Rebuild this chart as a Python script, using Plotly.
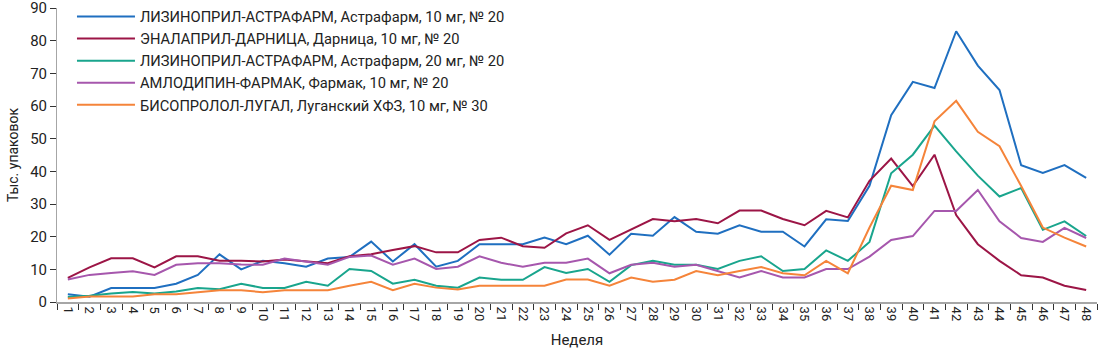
import plotly.graph_objects as go

weeks = [str(i) for i in range(1, 49)]

names = [
    "ЛИЗИНОПРИЛ-АСТРАФАРМ, Астрафарм, 10 мг, № 20",
    "ЭНАЛАПРИЛ-ДАРНИЦА, Дарница, 10 мг, № 20",
    "ЛИЗИНОПРИЛ-АСТРАФАРМ, Астрафарм, 20 мг, № 20",
    "АМЛОДИПИН-ФАРМАК, Фармак, 10 мг, № 20",
    "БИСОПРОЛОЛ-ЛУГАЛ, Луганский ХФЗ, 10 мг, № 30",
]

lisinopril_10 = [2.4, 1.6, 4.3, 4.3, 4.3, 5.6, 8.3, 14.6, 10.0, 12.6, 11.9, 10.8,
                 13.3, 13.8, 18.5, 12.4, 17.7, 10.8, 12.6, 17.7, 17.7, 17.7, 19.7, 17.7,
                 20.3, 14.5, 20.9, 20.3, 26.0, 21.5, 20.9, 23.5, 21.5, 21.5, 17.0, 25.3,
                 24.8, 35.6, 57.2, 67.4, 65.5, 82.9, 72.4, 64.9, 41.9, 39.5, 41.9, 38.0]

enalapril_10 = [7.4, 10.6, 13.4, 13.4, 10.6, 14.0, 14.0, 12.6, 12.6, 12.4, 13.0, 12.5,
                11.9, 14.0, 14.6, 15.9, 17.1, 15.2, 15.2, 19.0, 19.7, 17.1, 16.6, 21.0,
                23.5, 19.0, 22.2, 25.4, 24.7, 25.4, 24.1, 28.0, 28.0, 25.4, 23.5, 27.9,
                25.9, 37.1, 43.9, 35.5, 45.1, 26.6, 17.7, 12.6, 8.2, 7.5, 5.0, 3.7]

lisinopril_20 = [1.5, 1.9, 2.6, 3.1, 2.6, 3.2, 4.3, 3.9, 5.6, 4.3, 4.3, 6.2,
                 5.0, 10.1, 9.5, 5.6, 6.8, 5.0, 4.4, 7.5, 6.8, 6.8, 10.7, 8.9,
                 10.1, 6.2, 11.3, 12.6, 11.4, 11.4, 10.1, 12.6, 14.0, 9.5, 10.1, 15.8,
                 12.6, 18.4, 39.4, 45.1, 54.0, 46.1, 38.7, 32.3, 34.9, 22.1, 24.7, 20.2]

amlodipin_10 = [6.9, 8.3, 8.9, 9.4, 8.3, 11.4, 11.9, 11.9, 11.5, 11.4, 13.3, 12.3,
                11.4, 13.8, 14.2, 11.4, 13.3, 10.1, 10.8, 14.0, 12.0, 10.8, 12.0, 12.0,
                13.3, 8.8, 11.4, 12.0, 10.8, 11.4, 9.5, 7.5, 9.5, 7.5, 7.5, 10.1,
                10.1, 13.9, 19.0, 20.2, 27.9, 27.9, 34.3, 24.7, 19.6, 18.4, 22.7, 19.6]

bisoprolol_10 = [1.1, 1.7, 1.7, 1.7, 2.4, 2.4, 3.0, 3.6, 3.6, 3.0, 3.6, 3.6,
                 3.6, 5.0, 6.2, 3.6, 5.6, 4.4, 3.8, 5.0, 5.0, 5.0, 5.0, 6.9,
                 6.9, 5.0, 7.5, 6.2, 6.8, 9.5, 8.2, 9.5, 10.7, 8.8, 8.2, 12.6,
                 8.8, 22.8, 35.6, 34.3, 55.3, 61.6, 52.1, 47.7, 35.5, 22.8, 19.7, 17.0]

series = [lisinopril_10, enalapril_10, lisinopril_20, amlodipin_10, bisoprolol_10]
colors = ["#1f6fc0", "#9c1546", "#19a58d", "#a657ad", "#f5843a"]

y_ticks = [0, 10, 20, 30, 40, 50, 60, 70, 80, 90]

FONT = "Roboto"

fig = go.Figure()
for name, vals, col in zip(names, series, colors):
    fig.add_trace(go.Scatter(
        x=weeks, y=vals, name=name, mode="lines",
        line=dict(color=col, width=2),
    ))

fig.update_layout(
    width=1104, height=354,
    margin=dict(l=57, r=7, t=8, b=52, autoexpand=False),
    paper_bgcolor="white", plot_bgcolor="white",
    font=dict(family=FONT, color="#222222"),
    showlegend=True,
    legend=dict(
        x=0.0144, y=1.026, xanchor="left", yanchor="top",
        bgcolor="rgba(0,0,0,0)",
        font=dict(family=FONT, size=14.7, color="#222222"),
        itemwidth=58,
        tracegroupgap=0,
    ),
    xaxis=dict(
        type="category",
        range=[-0.5, 47.5],
        showline=True, linecolor="#a6a6a6", linewidth=2,
        ticks="outside", ticklen=6, tickcolor="#333333", tickwidth=1,
        tickson="boundaries",
        tickangle=90,
        tickfont=dict(family=FONT, size=13, color="#222222"),
        showgrid=False, zeroline=False,
        automargin=False,
        title=dict(text="Неделя", font=dict(family=FONT, size=15, color="#222222"), standoff=14),
    ),
    yaxis=dict(
        range=[0, 90.02],
        tickvals=y_ticks,
        showline=True, linecolor="#a6a6a6", linewidth=1,
        ticks="outside", ticklen=6, tickcolor="#333333", tickwidth=1,
        tickfont=dict(family=FONT, size=15, color="#222222"),
        ticklabeloverflow="allow",
        showgrid=False, zeroline=False,
        automargin=False,
        title=dict(text="Тыс. упаковок", font=dict(family=FONT, size=14, color="#222222"), standoff=8),
    ),
)

fig.write_html("out.html")
